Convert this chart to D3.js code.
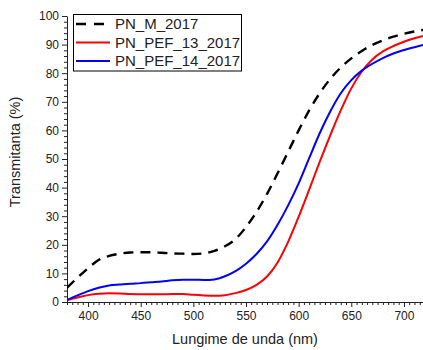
<!DOCTYPE html>
<html>
<head>
<meta charset="utf-8">
<script src="https://cdn.jsdelivr.net/npm/d3@7"></script>
<style>
  body { margin: 0; background: #fff; }
  svg { display: block; font-family: "Liberation Sans", Arial, sans-serif; }
</style>
</head>
<body>
<script>
/* ---------------- data ---------------- */
const wavelengths = [380, 390, 400, 410, 420, 430, 440, 450, 460, 470, 480, 490, 500, 510, 520, 530, 540, 550,
  560, 570, 580, 590, 600, 610, 620, 630, 640, 650, 660, 670, 680, 690, 700, 710, 720];
const pnM = [5.0, 8.5, 11.8, 14.7, 16.1, 16.9, 17.3, 17.4, 17.4, 17.2, 17.0, 16.9, 16.8, 17.0, 17.9, 19.5, 22.0, 26.2,
  31.5, 37.8, 45.0, 52.5, 60.0, 67.0, 73.0, 78.0, 82.0, 85.2, 87.8, 89.9, 91.5, 92.8, 93.8, 94.6, 95.2];
const pnPef13 = [0.7, 1.6, 2.4, 2.9, 3.1, 3.0, 2.8, 2.7, 2.7, 2.7, 2.8, 2.8, 2.5, 2.3, 2.2, 2.4, 3.1, 4.2,
  6.0, 8.9, 13.8, 21.0, 29.8, 39.3, 49.0, 58.3, 67.0, 74.7, 80.6, 84.8, 87.6, 89.5, 91.0, 92.2, 93.2];
const pnPef14 = [0.7, 2.3, 3.8, 5.0, 5.8, 6.1, 6.4, 6.6, 6.9, 7.2, 7.6, 7.8, 7.8, 7.7, 7.9, 9.0, 10.8, 13.4,
  16.8, 21.2, 27.0, 33.8, 41.5, 50.3, 59.0, 66.6, 73.0, 77.6, 80.9, 83.3, 85.3, 86.9, 88.1, 89.1, 90.0];
const seriesNames = ["PN_M_2017", "PN_PEF_13_2017", "PN_PEF_14_2017"];
const seriesColors = ["#000000", "#ff0000", "#0000ff"];
const xTicks = [400, 450, 500, 550, 600, 650, 700];
const yTicks = [0, 10, 20, 30, 40, 50, 60, 70, 80, 90, 100];

/* ---------------- layout ---------------- */
const width = 423, height = 350;
const plotLeft = 67, plotRight = 425, plotTop = 16, plotBottom = 302;

const svg = d3.select("body").append("svg")
  .attr("width", width)
  .attr("height", height);

const x = d3.scaleLinear().domain([380, 720]).range([plotLeft, plotRight]);
const y = d3.scaleLinear().domain([0, 100]).range([plotBottom, plotTop]);

//minor ticks
const xMinor = d3.range(380, 721, 5).filter(v => v % 50 !== 0);
const yMinor = d3.range(0, 101, 2).filter(v => v % 10 !== 0);

svg.append("g")
  .attr("transform", `translate(0,${plotBottom})`)
  .call(d3.axisBottom(x).tickValues(xMinor).tickSize(3).tickFormat(""))
  .call(g => g.select(".domain").remove());
svg.append("g")
  .attr("transform", `translate(${plotLeft},0)`)
  .call(d3.axisLeft(y).tickValues(yMinor).tickSize(3).tickFormat(""))
  .call(g => g.select(".domain").remove());

svg.append("g")
  .attr("transform", `translate(0,${plotBottom})`)
  .call(d3.axisBottom(x).tickValues(xTicks).tickSize(5).tickSizeOuter(0).tickPadding(4));
svg.append("g")
  .attr("transform", `translate(${plotLeft},0)`)
  .call(d3.axisLeft(y).tickValues(yTicks).tickSize(5).tickSizeOuter(0).tickPadding(3));

svg.selectAll(".tick text")
  .attr("font-family", "Liberation Sans, Arial, sans-serif")
  .attr("font-size", 12)
  .attr("fill", "#222");
svg.selectAll(".tick line").attr("stroke", "#222");
svg.selectAll(".domain").attr("stroke", "#222");

/* ---------------- curves ---------------- */
svg.append("clipPath").attr("id", "plot-clip")
  .append("rect")
  .attr("x", plotLeft).attr("y", plotTop - 5)
  .attr("width", plotRight - plotLeft).attr("height", plotBottom - plotTop + 5);

const line = d3.line()
  .x(d => x(d[0]))
  .y(d => y(d[1]))
  .curve(d3.curveMonotoneX);

const series = [pnM, pnPef13, pnPef14];
svg.append("g").attr("clip-path", "url(#plot-clip)")
  .selectAll("path")
  .data(series)
  .join("path")
  .attr("fill", "none")
  .attr("stroke", (d, i) => seriesColors[i])
  .attr("stroke-width", (d, i) => i === 0 ? 2.4 : 2)
  .attr("stroke-dasharray", (d, i) => i === 0 ? "10,7" : null)
  .attr("d", d => line(d.map((v, j) => [wavelengths[j], v])));

/* ---------------- axis titles ---------------- */
svg.append("text")
  .attr("x", 245)
  .attr("y", 344)
  .attr("text-anchor", "middle")
  .attr("font-size", 14.5)
  .attr("fill", "#222")
  .text("Lungime de unda (nm)");

svg.append("text")
  .attr("transform", "translate(20,152) rotate(-90)")
  .attr("text-anchor", "middle")
  .attr("font-size", 14.5)
  .attr("fill", "#222")
  .text("Transmitanta (%)");

/* ---------------- legend ---------------- */
const legend = svg.append("g");
legend.append("rect")
  .attr("x", 73.5).attr("y", 14.5)
  .attr("width", 168).attr("height", 56.5)
  .attr("fill", "#fff").attr("stroke", "#000").attr("stroke-width", 1);

const rows = legend.selectAll("g.row")
  .data(seriesNames)
  .join("g")
  .attr("class", "row")
  .attr("transform", (d, i) => `translate(0,${24 + i * 18.5})`);
rows.append("line")
  .attr("x1", 76).attr("x2", 110)
  .attr("stroke", (d, i) => seriesColors[i])
  .attr("stroke-width", (d, i) => i === 0 ? 2.4 : 2)
  .attr("stroke-dasharray", (d, i) => i === 0 ? "10,8" : null);
rows.append("text")
  .attr("x", 115)
  .attr("dy", "0.36em")
  .attr("font-size", 15)
  .attr("fill", "#222")
  .text(d => d);
</script>
</body>
</html>
